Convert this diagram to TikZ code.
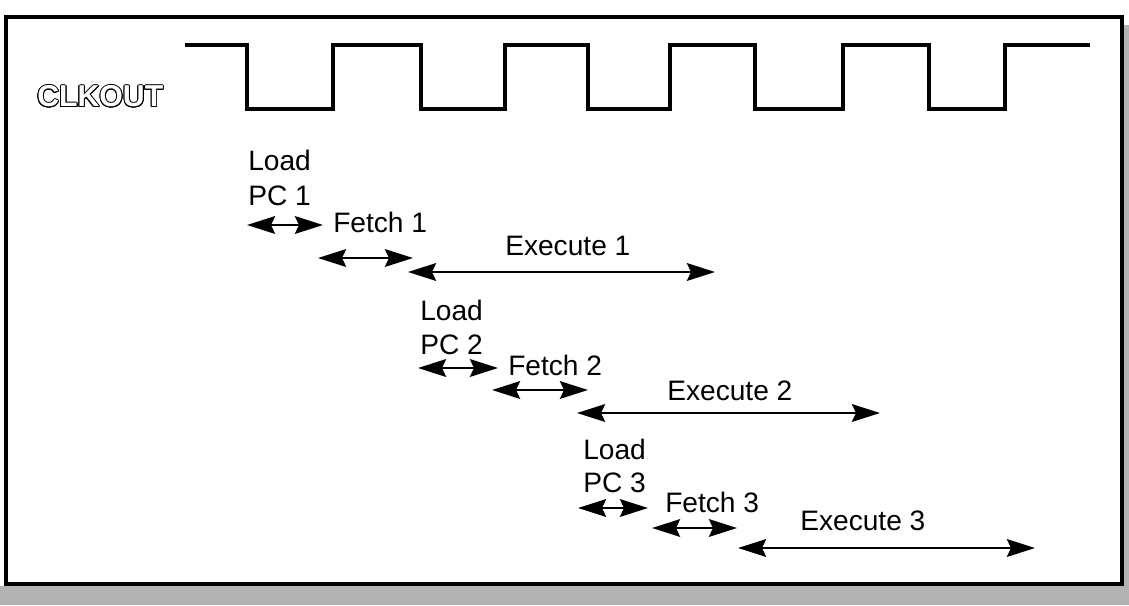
\documentclass[tikz,border=0pt]{standalone}
\usepackage{fontspec}
\setmainfont{Liberation Sans}
\usepackage{contour}
\contourlength{0.7pt}
\usetikzlibrary{arrows.meta}
\tikzset{
  lbl/.style={anchor=base west, inner sep=0pt, font=\fontsize{20}{24}\selectfont},
  phase/.style={{Stealth[length=0.7cm,width=0.44cm,inset=0.1cm]}-{Stealth[length=0.7cm,width=0.44cm,inset=0.1cm]}, line width=2pt},
}
\begin{document}
\begin{tikzpicture}[x=0.025cm, y=-0.025cm]
\useasboundingbox (0,0) rectangle (1129,605);

% Frame with shadow
\fill[gray!60] (0,586) rectangle (1129,605);
\fill[gray!60] (1122,25) rectangle (1129,605);
\draw[line width=2.8pt, fill=white] (6,17) rectangle (1122,584);

% Clock
\node[anchor=west, inner sep=0pt] (clk) at (37,97)
  {\fontsize{21.5}{24}\selectfont\bfseries\contour{black}{\textcolor{white}{CLKOUT}}};
\draw[line width=2.8pt, line join=miter]
  (185,45) -| (247,109) -| (333,45) -| (421,109) -| (505,45) -| (588,109)
  -| (670,45) -| (755,109) -| (843,45) -| (929,109) -| (1005,45) -- (1090,45);

% Instruction 1
\node[lbl] (load1) at (248,170) {Load};
\node[lbl] (pc1) at (248,205) {PC 1};
\coordinate (lp1a) at (247,225);
\coordinate (lp1b) at (323,225);
\draw[phase] (lp1a) -- (lp1b);
\node[lbl] (fetch1) at (333,232) {Fetch 1};
\coordinate (fe1a) at (318,258);
\coordinate (fe1b) at (413,258);
\draw[phase] (fe1a) -- (fe1b);
\node[lbl] (exec1) at (505,255) {Execute 1};
\coordinate (ex1a) at (408,272);
\coordinate (ex1b) at (715,272);
\draw[phase] (ex1a) -- (ex1b);

% Instruction 2
\node[lbl] (load2) at (420,320) {Load};
\node[lbl] (pc2) at (420,354) {PC 2};
\coordinate (lp2a) at (418,368);
\coordinate (lp2b) at (498,368);
\draw[phase] (lp2a) -- (lp2b);
\node[lbl] (fetch2) at (508,375) {Fetch 2};
\coordinate (fe2a) at (492,390);
\coordinate (fe2b) at (588,390);
\draw[phase] (fe2a) -- (fe2b);
\node[lbl] (exec2) at (667,400) {Execute 2};
\coordinate (ex2a) at (577,413);
\coordinate (ex2b) at (880,413);
\draw[phase] (ex2a) -- (ex2b);

% Instruction 3
\node[lbl] (load3) at (583,459) {Load};
\node[lbl] (pc3) at (583,492) {PC 3};
\coordinate (lp3a) at (578,508);
\coordinate (lp3b) at (648,508);
\draw[phase] (lp3a) -- (lp3b);
\node[lbl] (fetch3) at (665,512) {Fetch 3};
\coordinate (fe3a) at (652,528);
\coordinate (fe3b) at (737,528);
\draw[phase] (fe3a) -- (fe3b);
\node[lbl] (exec3) at (800,530) {Execute 3};
\coordinate (ex3a) at (738,548);
\coordinate (ex3b) at (1035,548);
\draw[phase] (ex3a) -- (ex3b);
\end{tikzpicture}
\end{document}
